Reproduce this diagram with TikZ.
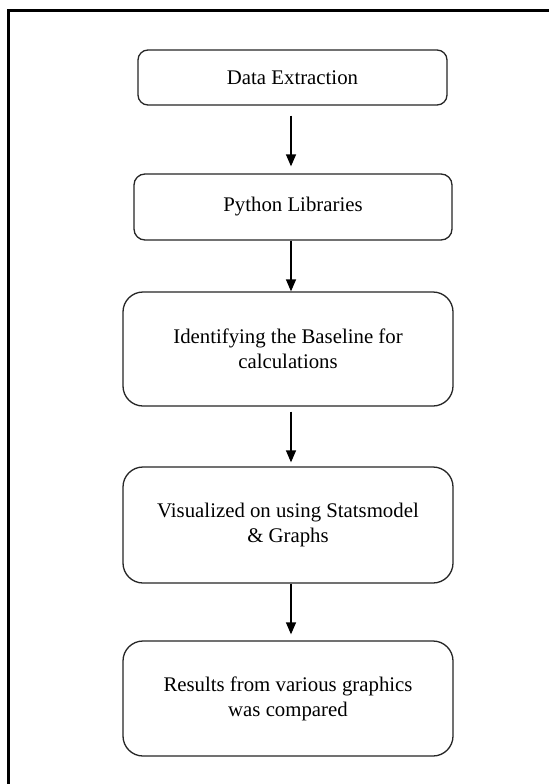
\documentclass[tikz,border=0pt]{standalone}
\usepackage{fontspec}
\setmainfont{Liberation Serif}
\usetikzlibrary{arrows.meta}
\begin{document}
\begin{tikzpicture}[x=1pt,y=-1pt,
  flowbox/.style={draw=black!85, line width=1.3pt, align=center, inner sep=0pt,
    font=\fontsize{20.8}{25}\selectfont},
  arr/.style={draw=black, line width=1.3pt, -{Triangle[width=10pt,length=12pt]}}]
\useasboundingbox (0,0) rectangle (549,784);
\fill[white] (0,0) rectangle (549,784);
\draw[line width=2.5pt] (8.5,784) -- (8.5,10.5) -- (549,10.5);
\node[flowbox, rounded corners=10pt, minimum width=309pt, minimum height=55pt] (b1) at (292.5,77.5) {Data Extraction};
\node[flowbox, rounded corners=11pt, minimum width=318pt, minimum height=66pt] (b2) at (293,207) {Python Libraries};
\node[flowbox, rounded corners=20pt, minimum width=330pt, minimum height=114pt] (b3) at (288,349) {Identifying the Baseline for\\calculations};
\node[flowbox, rounded corners=20pt, minimum width=330pt, minimum height=116pt] (b4) at (288,525) {Visualized on using Statsmodel\\\& Graphs};
\node[flowbox, rounded corners=20pt, minimum width=330pt, minimum height=115pt] (b5) at (288,698.5) {Results from various graphics\\was compared};
\coordinate (ax) at (291,0);
\draw[arr] ([yshift=-10pt]b1.south -| ax) -- ([yshift=7pt]b2.north -| ax);
\draw[arr] (b2.south -| ax) -- (b3.north -| ax);
\draw[arr] ([yshift=-5pt]b3.south -| ax) -- ([yshift=4pt]b4.north -| ax);
\draw[arr] (b4.south -| ax) -- ([yshift=6pt]b5.north -| ax);
\end{tikzpicture}
\end{document}
